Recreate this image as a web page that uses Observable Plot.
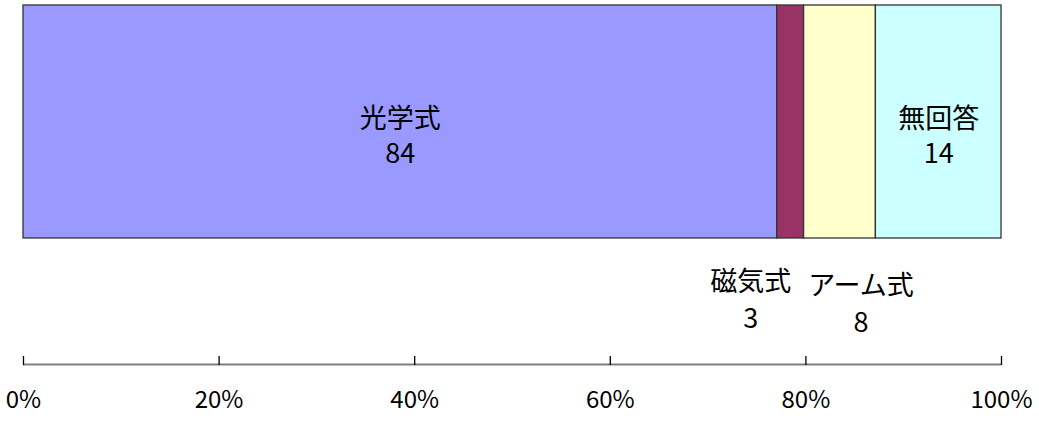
<!DOCTYPE html>
<html><head><meta charset="utf-8">
<script src="https://cdn.jsdelivr.net/npm/d3@7"></script>
<script src="https://cdn.jsdelivr.net/npm/@observablehq/plot@0.6"></script>
<style>body{margin:0;background:#fff} svg{display:block}</style>
</head><body><div id="chart"></div>
<script>
const categories = ["光学式", "磁気式", "アーム式", "無回答"];
const values = [84, 3, 8, 14];
const colors = ["#9999FF", "#993366", "#FFFFCC", "#CCFFFF"];
const tickValues = [0, 0.2, 0.4, 0.6, 0.8, 1];
const tickLabels = ["0%", "20%", "40%", "60%", "80%", "100%"];
const insideLabels = ["光学式", "無回答"];

const total = d3.sum(values);
const ends = Array.from(d3.cumsum(values));
const rows = categories.map((c, i) => {
  const x1 = (ends[i] - values[i]) / total, x2 = ends[i] / total;
  return {category: c, value: values[i], row: "all", x1, x2, mid: (x1 + x2) / 2, label: c + "\n" + values[i]};
});

const font = "'Liberation Sans Narrow', 'Noto Sans CJK JP', sans-serif";

const chart = Plot.plot({
  width: 1039,
  height: 421,
  marginLeft: 23,
  marginRight: 38,
  marginTop: 5,
  marginBottom: 183,
  style: {fontFamily: font, fontSize: "27px", color: "black", background: "white"},
  x: {domain: [0, 1], label: null},
  y: {domain: ["all"], padding: 0, axis: null, label: null},
  color: {domain: categories, range: colors},
  marks: [
    Plot.barX(rows, {x1: "x1", x2: "x2", y: "row", fill: "category", stroke: "#333333", strokeWidth: 1.3}),
    Plot.text(rows.filter(d => insideLabels.includes(d.category)), {x: "mid", y: "row", text: "label", dy: 12, lineHeight: 1.33, fontSize: 27, fill: "black"}),
    Plot.text(rows.filter(d => d.category === "磁気式"), {x: "mid", y: "row", text: "label", dx: -40, dy: 176, lineHeight: 1.37, fontSize: 27, fill: "black"}),
    Plot.text(rows.filter(d => d.category === "アーム式"), {x: "mid", y: "row", text: "label", dx: 21, dy: 180, lineHeight: 1.37, fontSize: 27, fill: "black"}),
    Plot.ruleY(["all"], {y: d => d, x1: 0, x2: 1, stroke: "#808080", strokeWidth: 2, dy: 242.5}),
    Plot.axisX(tickValues, {anchor: "top", tickSize: 9, tickFormat: () => "", label: null, dy: 359, stroke: "black", strokeWidth: 1.3}),
    Plot.axisX(tickValues, {anchor: "bottom", tickSize: 0, tickPadding: 0, dy: 162, lineAnchor: "middle", label: null, fontSize: 24, fill: "black",
      tickFormat: d => tickLabels[tickValues.indexOf(d)]})
  ]
});
document.getElementById("chart").append(chart);
</script>
</body></html>
